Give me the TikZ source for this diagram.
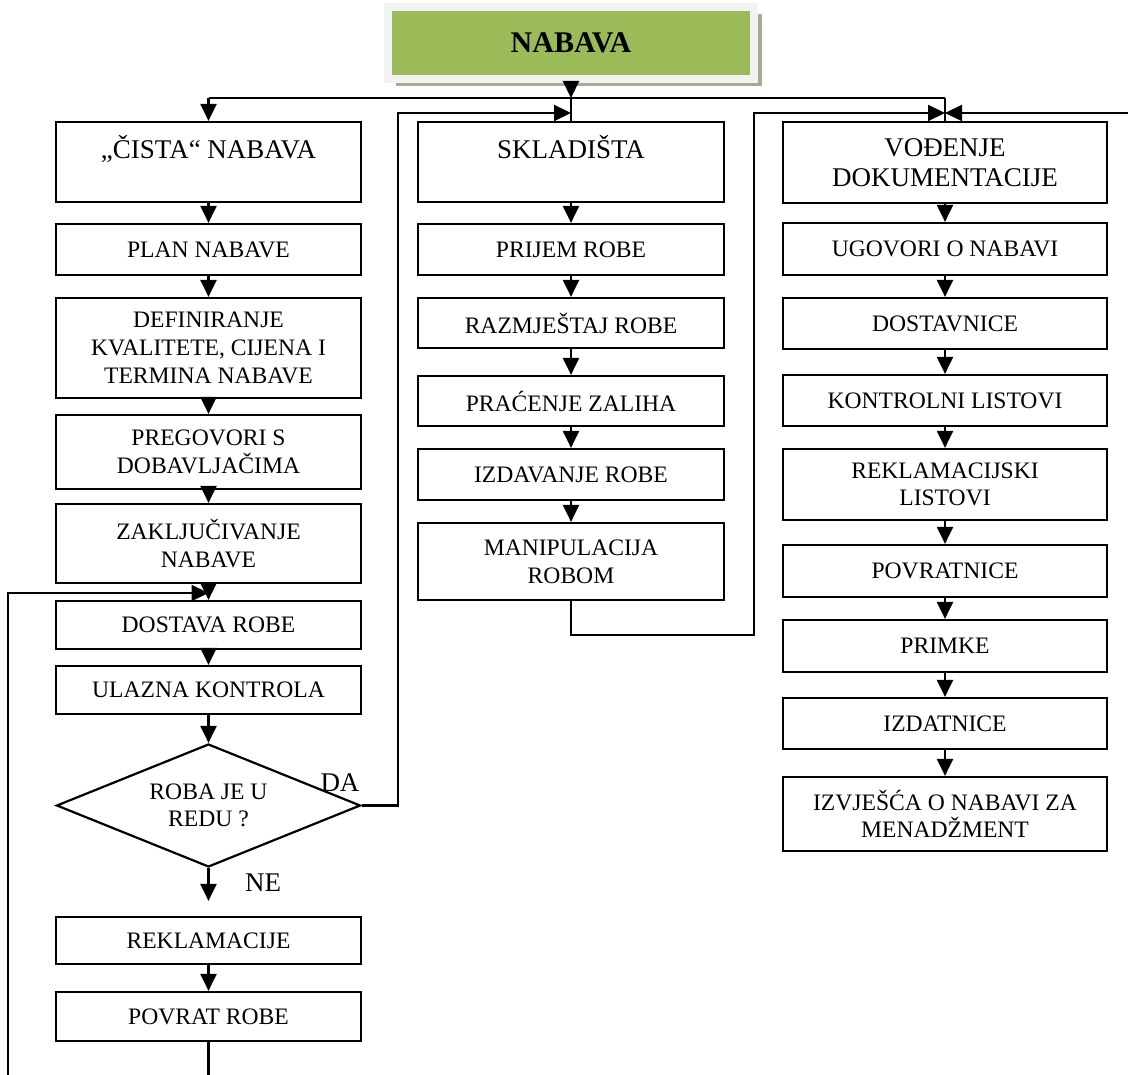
\documentclass[tikz,border=0pt]{standalone}
\usepackage{fontspec}
\setmainfont{Liberation Serif}
\usetikzlibrary{arrows.meta,shapes.geometric,shadows}
\definecolor{nabgreen}{RGB}{155,187,89}
\definecolor{nabframe}{RGB}{242,242,242}
\definecolor{nabshadow}{RGB}{166,170,152}

\begin{document}
\begin{tikzpicture}[x=1pt,y=-1pt,line width=2.2pt,
  arr/.style={-{Triangle[length=17pt,width=16pt]}},
  box/.style={draw,rectangle,align=center,inner sep=2pt,font=\fontsize{23.6}{27.7}\selectfont},
  lbox/.style={box,minimum width=305pt},
  mbox/.style={box,minimum width=306pt},
  rbox/.style={box,minimum width=324pt},
  big/.style={font=\fontsize{27}{30}\selectfont},
  high/.style={big,text height=18pt,text depth=24.2pt},
  odluka/.style={diamond,draw,aspect=2.5,inner sep=0pt,minimum width=304pt,minimum height=123pt,
    align=center,font=\fontsize{23.6}{27.7}\selectfont},
  lbl/.style={inner sep=0pt,font=\fontsize{27}{30}\selectfont},
  glava/.style={draw=nabframe,line width=8pt,fill=nabgreen,minimum width=366pt,minimum height=72pt,
    font=\fontsize{30}{33}\selectfont\bfseries,
    drop shadow={shadow xshift=7.5pt,shadow yshift=-7.5pt,fill=nabshadow,opacity=1}}]
\useasboundingbox (0,0) rectangle (1128,1075);

\node[glava] (nabava) at (571,43) {NABAVA};

\node[lbox,minimum height=80pt,high] (cista) at (208.5,162) {„ČISTA“ NABAVA};
\node[lbox,minimum height=51pt] (plan) at (208.5,249.5) {PLAN NABAVE};
\node[lbox,minimum height=100pt] (defin) at (208.5,348) {DEFINIRANJE\\KVALITETE, CIJENA I\\TERMINA NABAVE};
\node[lbox,minimum height=74pt] (pregov) at (208.5,452) {PREGOVORI S\\DOBAVLJAČIMA};
\node[lbox,minimum height=79pt] (zaklj) at (208.5,543.5) {ZAKLJUČIVANJE\\NABAVE};
\node[lbox,minimum height=48pt] (dostava) at (208.5,625) {DOSTAVA ROBE};
\node[lbox,minimum height=48pt] (ulaz) at (208.5,690) {ULAZNA KONTROLA};
\node[odluka] (robaok) at (208.5,805.5) {ROBA JE U\\REDU ?};
\node[lbox,minimum height=47pt] (reklam) at (208.5,940.5) {REKLAMACIJE};
\node[lbox,minimum height=49pt] (povrat) at (208.5,1016.5) {POVRAT ROBE};

\node[mbox,minimum height=80pt,high] (sklad) at (571,162) {SKLADIŠTA};
\node[mbox,minimum height=51pt] (prijem) at (571,249.5) {PRIJEM ROBE};
\node[mbox,minimum height=50pt] (razmj) at (571,323) {RAZMJEŠTAJ ROBE};
\node[mbox,minimum height=50pt] (pracenje) at (571,401) {PRAĆENJE ZALIHA};
\node[mbox,minimum height=51pt] (izdav) at (571,474.5) {IZDAVANJE ROBE};
\node[mbox,minimum height=77pt] (manip) at (571,561.5) {MANIPULACIJA\\ROBOM};

\node[rbox,minimum height=81pt,big] (vodenje) at (945,162.5) {VOĐENJE\\DOKUMENTACIJE};
\node[rbox,minimum height=52pt] (ugovori) at (945,249) {UGOVORI O NABAVI};
\node[rbox,minimum height=51pt] (dostavnice) at (945,323.5) {DOSTAVNICE};
\node[rbox,minimum height=51pt] (kontrolni) at (945,400.5) {KONTROLNI LISTOVI};
\node[rbox,minimum height=71pt] (reklist) at (945,484.5) {REKLAMACIJSKI\\LISTOVI};
\node[rbox,minimum height=52pt] (povratnice) at (945,571) {POVRATNICE};
\node[rbox,minimum height=52pt] (primke) at (945,646) {PRIMKE};
\node[rbox,minimum height=51pt] (izdatnice) at (945,723.5) {IZDATNICE};
\node[rbox,minimum height=74pt] (izvjesca) at (945,814) {IZVJEŠĆA O NABAVI ZA\\MENADŽMENT};

\node[lbl] (da) at (340,783) {DA};
\node[lbl] (ne) at (263,883) {NE};

\coordinate (bus) at (571,98);
\coordinate (sklin) at (571,113);
\coordinate (vodin) at (945,113);
\coordinate (daup) at (398,113);
\coordinate (manloop) at (754,635);
\coordinate (rightend) at (1128,113);
\coordinate (dostin) at (208.5,593);
\coordinate (loopbot) at (8,1075);
\coordinate (povend) at (208.5,1075);

\draw[arr] (nabava) -- (bus);
\draw (cista.north |- bus) -- (vodenje.north |- bus);
\draw[arr] (cista.north |- bus) -- (cista);
\draw (bus) -- (sklad);
\draw (vodenje.north |- bus) -- (vodenje);

\foreach \a/\b in {cista/plan,plan/defin,defin/pregov,pregov/zaklj,zaklj/dostava,dostava/ulaz,ulaz/robaok,reklam/povrat,
  sklad/prijem,prijem/razmj,razmj/pracenje,pracenje/izdav,izdav/manip,
  vodenje/ugovori,ugovori/dostavnice,dostavnice/kontrolni,kontrolni/reklist,reklist/povratnice,povratnice/primke,primke/izdatnice,izdatnice/izvjesca}
  \draw[arr] (\a) -- (\b);
\draw[arr,shorten >=15pt] (robaok) -- (reklam);

\draw[arr] (robaok.east) -| (daup) -- (sklin);
\draw[arr] (manip) |- (manloop) |- (vodin);
\draw[arr] (rightend) -- (vodin);
\draw (povrat) -- (povend);
\draw[arr] (loopbot) |- (dostin);
\end{tikzpicture}
\end{document}
